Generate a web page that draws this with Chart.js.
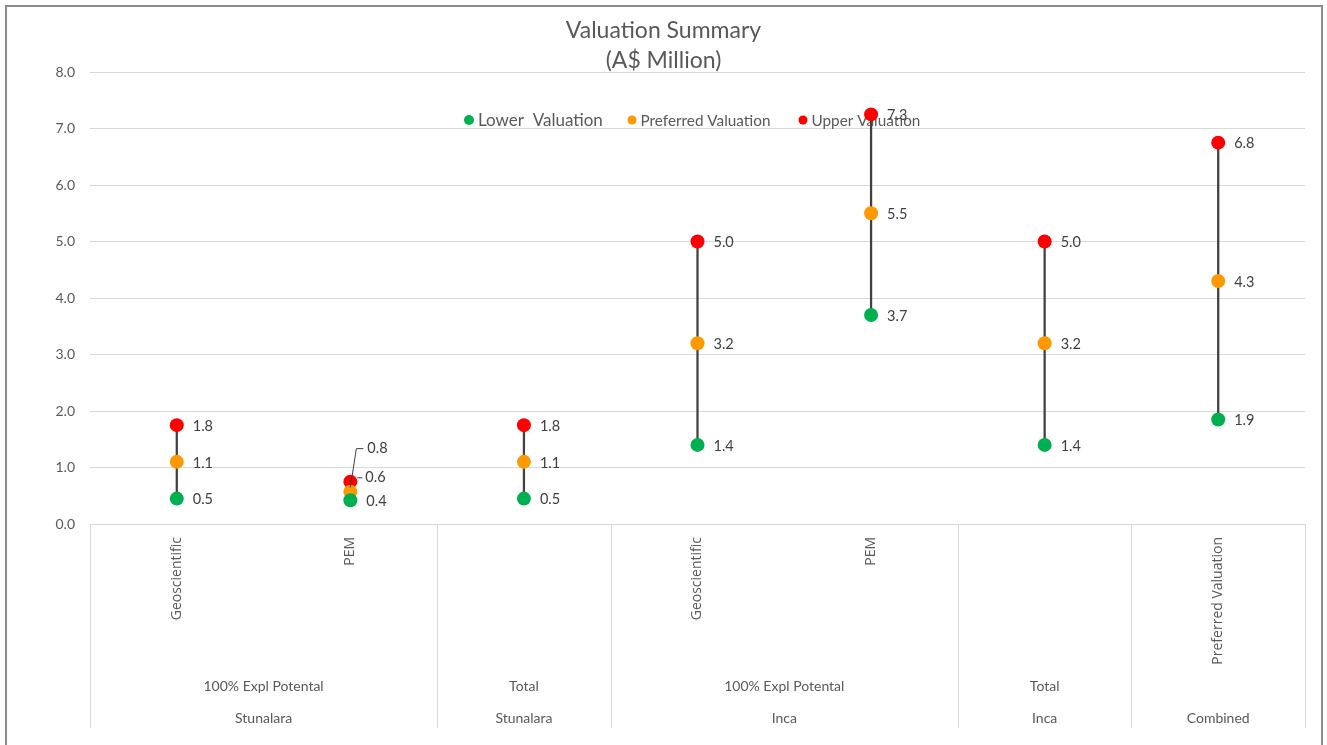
<!DOCTYPE html>
<html>
<head>
<meta charset="utf-8">
<title>Valuation Summary</title>
<script src="https://cdn.jsdelivr.net/npm/chart.js@4.4.0/dist/chart.umd.min.js"></script>
<style>
html,body{margin:0;padding:0;background:#fff;}
#wrap{position:relative;width:1327px;height:745px;overflow:hidden;}
#frame{position:absolute;left:5px;top:5px;width:1318px;height:800px;border:2px solid #8c8c8c;box-sizing:border-box;}
#chart{position:absolute;left:0;top:0;}
</style>
</head>
<body>
<div id="wrap">
  <div id="frame"></div>
  <canvas id="chart" width="1327" height="745"></canvas>
</div>
<script>
// categories (bottom row of the axis = site, middle row = group, rotated = item)
const categories=['Geoscientific','PEM','','Geoscientific','PEM','','Preferred Valuation'];
const groupNames=['100% Expl Potental','Total','100% Expl Potental','Total',''];
const siteNames=['Stunalara','Stunalara','Inca','Inca','Combined'];
const groupSizes=[2,1,2,1,1];

// valuations, A$ million
const lowerVal=[0.45,0.42,0.45,1.4,3.7,1.4,1.85];
const preferredVal=[1.1,0.57,1.1,3.2,5.5,3.2,4.3];
const upperVal=[1.75,0.75,1.75,5.0,7.25,5.0,6.75];

const yTicks=[0,1,2,3,4,5,6,7,8];

const FONT='Lato, "Open Sans", sans-serif';
const TXT='#595959';

// title drawn by hand so it can sit over the plot top
const titlePlugin={
  id:'titleText',
  afterDraw(chart){
    const c=chart.ctx;
    c.save();
    c.fillStyle=TXT;c.font='23px '+FONT;
    c.textAlign='center';c.textBaseline='middle';
    const mid=chart.width/2;
    c.fillText('Valuation Summary',mid,31);
    c.fillText('(A$ Million)',mid,61);
    c.restore();
  }
};

// legend inside the plot, under the markers
const legendItems=[
  {ds:1,x:469,r:5,size:17},
  {ds:2,x:632,r:4.5,size:15.3},
  {ds:3,x:803,r:4.5,size:15.3}
];
const legendPlugin={
  id:'insideLegend',
  beforeDatasetsDraw(chart){
    const c=chart.ctx;const y=120;
    c.save();
    legendItems.forEach(it=>{
      const ds=chart.data.datasets[it.ds];
      c.fillStyle=ds.backgroundColor;
      c.beginPath();c.arc(it.x,y,it.r,0,Math.PI*2);c.fill();
      c.fillStyle=TXT;c.font=it.size+'px '+FONT;
      c.textAlign='left';c.textBaseline='middle';
      c.fillText(ds.label,it.x+it.r+4,y+1);
    });
    c.restore();
  }
};

// value labels; the crowded PEM column gets lifted labels with leaders
const liftLabel={1:{3:-33,2:-14}};
const valueLabels={
  id:'valueLabels',
  afterDatasetsDraw(chart){
    const c=chart.ctx;
    c.save();
    c.font='14.5px '+FONT;c.fillStyle='#404040';c.strokeStyle='#404040';c.lineWidth=1;
    c.textAlign='left';c.textBaseline='middle';
    [1,2,3].forEach(d=>{
      const meta=chart.getDatasetMeta(d);
      const vals=chart.data.datasets[d].data;
      meta.data.forEach((pt,i)=>{
        const txt=vals[i].toFixed(1);
        const lift=liftLabel[i]&&liftLabel[i][d];
        if(lift){
          const ly=pt.y+lift;
          c.beginPath();
          if(d===3){c.moveTo(pt.x,pt.y+6);c.lineTo(pt.x+6,ly);c.lineTo(pt.x+13,ly);}
          else{c.moveTo(pt.x+7,ly);c.lineTo(pt.x+12,ly);}
          c.stroke();
          c.fillText(txt,pt.x+(d===3?17:15),ly);
        }else{
          c.fillText(txt,pt.x+16,pt.y+1);
        }
      });
    });
    c.restore();
  }
};

// group and site rows under the rotated item labels
const axisGroups={
  id:'axisGroups',
  afterDraw(chart){
    const x=chart.scales.x,c=chart.ctx;
    const w=x.width/categories.length;
    const top=x.top,bottom=top+204;
    c.save();
    c.strokeStyle='#d9d9d9';c.lineWidth=1;
    c.fillStyle=TXT;c.font='14px '+FONT;
    c.textAlign='center';c.textBaseline='middle';
    let i=0;
    groupSizes.forEach((n,g)=>{
      const a=x.getPixelForValue(i)-w/2,b=x.getPixelForValue(i+n-1)+w/2;
      c.beginPath();c.moveTo(Math.round(a)+0.5,top);c.lineTo(Math.round(a)+0.5,bottom);c.stroke();
      if(g===groupSizes.length-1){c.beginPath();c.moveTo(Math.round(b)+0.5,top);c.lineTo(Math.round(b)+0.5,bottom);c.stroke();}
      if(groupNames[g])c.fillText(groupNames[g],(a+b)/2,top+162);
      c.fillText(siteNames[g],(a+b)/2,top+194);
      i+=n;
    });
    c.restore();
  }
};

const ranges=lowerVal.map((v,i)=>[v,upperVal[i]]);

new Chart(document.getElementById('chart'),{
  type:'bar',
  data:{
    labels:categories,
    datasets:[
      {type:'bar',label:'Range',data:ranges,backgroundColor:'#404040',barThickness:1.6,order:10},
      {type:'line',label:'Lower  Valuation',data:lowerVal,showLine:false,backgroundColor:'#00B050',pointBackgroundColor:'#00B050',pointBorderWidth:0,pointRadius:7,order:1},
      {type:'line',label:'Preferred Valuation',data:preferredVal,showLine:false,backgroundColor:'#FF9900',pointBackgroundColor:'#FF9900',pointBorderWidth:0,pointRadius:7,order:1},
      {type:'line',label:'Upper Valuation',data:upperVal,showLine:false,backgroundColor:'#FF0000',pointBackgroundColor:'#FF0000',pointBorderWidth:0,pointRadius:7,order:1}
    ]
  },
  options:{
    responsive:false,animation:false,
    layout:{padding:{top:72,left:0,right:22,bottom:0}},
    plugins:{legend:{display:false},tooltip:{enabled:false},title:{display:false}},
    scales:{
      x:{
        offset:true,
        grid:{display:false,drawTicks:false},
        border:{display:true,color:'#d9d9d9'},
        ticks:{minRotation:90,maxRotation:90,autoSkip:false,padding:13,color:TXT,font:{family:'"Open Sans", sans-serif',size:14}},
        afterFit(s){s.height=221;}
      },
      y:{
        min:0,max:8,
        afterBuildTicks(s){s.ticks=yTicks.map(v=>({value:v}));},
        grid:{color:'#d9d9d9',drawTicks:false},
        border:{display:false},
        ticks:{padding:15,color:TXT,font:{family:FONT,size:14},callback:v=>v.toFixed(1)},
        afterFit(s){s.width=90;}
      }
    }
  },
  plugins:[titlePlugin,legendPlugin,valueLabels,axisGroups]
});
</script>
</body>
</html>
